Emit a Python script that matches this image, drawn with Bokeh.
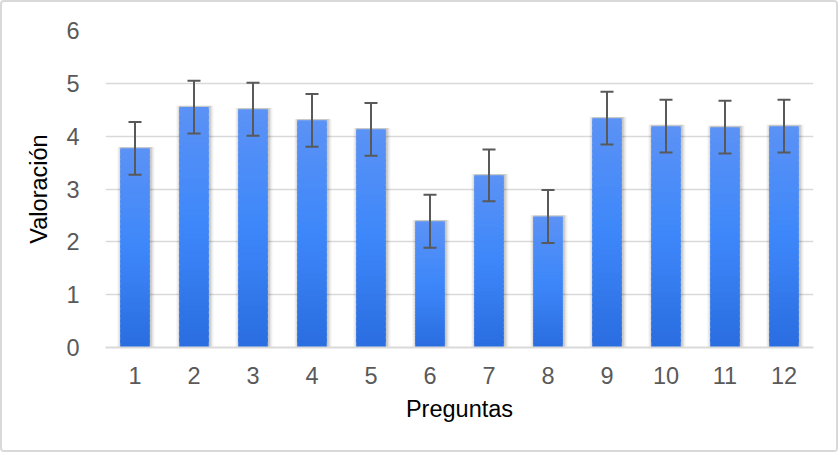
from bokeh.plotting import figure
from bokeh.models import Whisker, ColumnDataSource, FixedTicker, Range1d, TeeHead
from bokeh.embed import file_html
from bokeh.resources import INLINE

# ---- data ----
preguntas = [1, 2, 3, 4, 5, 6, 7, 8, 9, 10, 11, 12]
valoracion = [3.77, 4.55, 4.51, 4.30, 4.13, 2.39, 3.26, 2.48, 4.34, 4.19, 4.17, 4.19]
error = [0.50, 0.50, 0.50, 0.50, 0.50, 0.50, 0.49, 0.50, 0.50, 0.50, 0.50, 0.50]
y_ticks = [0, 1, 2, 3, 4, 5, 6]

FONT = "Liberation Sans"
TXT = "#595959"

p = figure(width=838, height=452, output_backend="svg", toolbar_location=None,
           x_range=Range1d(0.5, 12.5), y_range=Range1d(0, 6),
           min_border_left=103, min_border_right=27, min_border_top=28,
           min_border_bottom=107)
p.outline_line_color = None
p.background_fill_color = "white"
p.border_fill_color = "white"
p.styles = {"border": "2px solid #d9d9d9", "border-radius": "4px", "box-sizing": "border-box"}

# grid
p.xgrid.grid_line_color = None
p.ygrid.grid_line_color = "#d9d9d9"
p.ygrid.grid_line_width = 1.5

# shadow layers
for w, a in [(0.64, 0.03), (0.60, 0.05), (0.56, 0.07), (0.53, 0.08)]:
    p.vbar(x=[x + 0.015 for x in preguntas], top=[v + 0.025 for v in valoracion], bottom=0,
           width=w, fill_color="black", fill_alpha=a, line_color=None)

# gradient bars (bottom dark -> top light)
def lerp(c1, c2, t):
    return tuple(int(round(c1[i] + (c2[i] - c1[i]) * t)) for i in range(3))

bottom_c = (0x2A, 0x6D, 0xE0)
mid_c = (0x3D, 0x87, 0xFA)
top_c = (0x5B, 0x92, 0xF5)
N = 40
for i in range(N):
    t = (i + 0.5) / N
    if t < 0.5:
        c = lerp(bottom_c, mid_c, t / 0.5)
    else:
        c = lerp(mid_c, top_c, (t - 0.5) / 0.5)
    col = "#%02x%02x%02x" % c
    p.vbar(x=preguntas, bottom=[v * i / N for v in valoracion],
           top=[v * min(i + 1.6, N) / N for v in valoracion], width=0.5,
           fill_color=col, line_color=None)

# error bars
src = ColumnDataSource(dict(x=preguntas,
                            lower=[v - e for v, e in zip(valoracion, error)],
                            upper=[v + e for v, e in zip(valoracion, error)]))
wh = Whisker(source=src, base="x", lower="lower", upper="upper",
             line_color="#595959", line_width=2, level="overlay",
             upper_head=TeeHead(size=13, line_color="#595959", line_width=2),
             lower_head=TeeHead(size=13, line_color="#595959", line_width=2))
p.add_layout(wh)

# axes
p.xaxis.ticker = FixedTicker(ticks=preguntas)
p.yaxis.ticker = FixedTicker(ticks=y_ticks)
for ax in (p.xaxis[0], p.yaxis[0]):
    ax.major_tick_line_color = None
    ax.minor_tick_line_color = None
    ax.major_label_text_font = FONT
    ax.major_label_text_font_size = "23.5px"
    ax.major_label_text_color = TXT
    ax.axis_label_text_font = FONT
    ax.axis_label_text_font_size = "23.5px"
    ax.axis_label_text_color = "black"
    ax.axis_label_text_font_style = "normal"
p.xaxis.axis_line_color = "#d9d9d9"
p.xaxis.axis_line_width = 2
p.yaxis.axis_line_color = None
p.xaxis.major_label_standoff = 13
p.yaxis.major_label_standoff = 20
p.xaxis.axis_label = "Preguntas"
p.yaxis.axis_label = "Valoración"
p.xaxis.axis_label_standoff = 9
p.yaxis.axis_label_standoff = 11

open("out.html", "w").write(file_html(p, INLINE))
